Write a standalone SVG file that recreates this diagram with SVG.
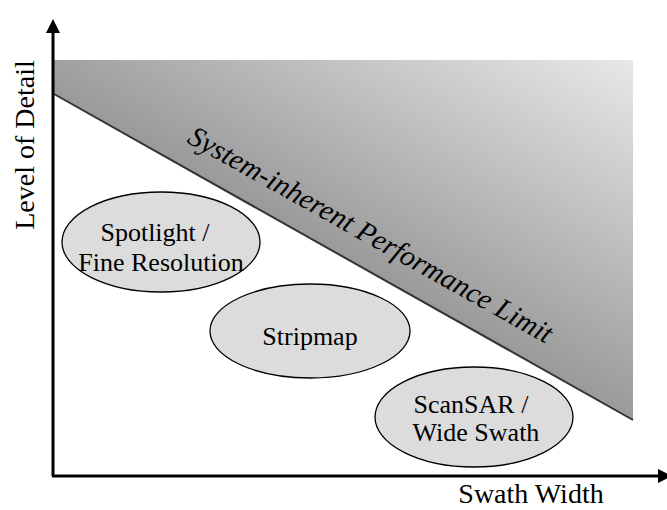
<svg xmlns="http://www.w3.org/2000/svg" width="667" height="510" viewBox="0 0 667 510">
  <style>
    .lbl { font-family: "Liberation Serif", "Times New Roman", serif; fill: #000; }
    .axis { stroke: #000; stroke-width: 3; fill: none; }
    .mode { fill: #dcdcdc; stroke: #000; stroke-width: 1.3; }
  </style>
  <defs>
    <linearGradient id="limitFill" gradientUnits="userSpaceOnUse" x1="479" y1="333" x2="633" y2="60">
      <stop offset="0" stop-color="#9a9a9a"/>
      <stop offset="1" stop-color="#e8e8e8"/>
    </linearGradient>
    <marker id="arrow" viewBox="0 0 14 14" refX="0" refY="7" markerWidth="14" markerHeight="14" markerUnits="userSpaceOnUse" orient="auto">
      <path d="M0,0 L14,7 L0,14 Z" fill="#000"/>
    </marker>
  </defs>

  <!-- performance limit region -->
  <g id="limit">
    <polygon points="54,60 633,60 633,420 54,94" fill="url(#limitFill)"/>
    <line x1="54" y1="94" x2="633" y2="420" stroke="#333" stroke-width="2"/>
    <text class="lbl" font-size="29" font-style="italic" transform="translate(186,142) rotate(29.3)">System-inherent Performance Limit</text>
  </g>

  <!-- axes -->
  <g id="axes">
    <polyline class="axis" points="53,476 53,33" marker-end="url(#arrow)"/>
    <polyline class="axis" points="52,476 658,476" marker-end="url(#arrow)"/>
    <text class="lbl" font-size="28" text-anchor="middle" transform="translate(34,145) rotate(-90)">Level of Detail</text>
    <text class="lbl" font-size="28" text-anchor="middle" x="531" y="503">Swath Width</text>
  </g>

  <g id="spotlight">
    <ellipse class="mode" cx="161" cy="242" rx="99" ry="50"/>
    <text class="lbl" font-size="26" text-anchor="middle" x="155" y="241">Spotlight /</text>
    <text class="lbl" font-size="26" text-anchor="middle" x="161" y="271">Fine Resolution</text>
  </g>

  <g id="stripmap">
    <ellipse class="mode" cx="310" cy="331" rx="100" ry="47"/>
    <text class="lbl" font-size="26" text-anchor="middle" x="310" y="345">Stripmap</text>
  </g>

  <g id="scansar">
    <ellipse class="mode" cx="474" cy="417" rx="99" ry="50"/>
    <text class="lbl" font-size="26" text-anchor="middle" x="471" y="413">ScanSAR /</text>
    <text class="lbl" font-size="26" text-anchor="middle" x="476" y="441">Wide Swath</text>
  </g>
</svg>
